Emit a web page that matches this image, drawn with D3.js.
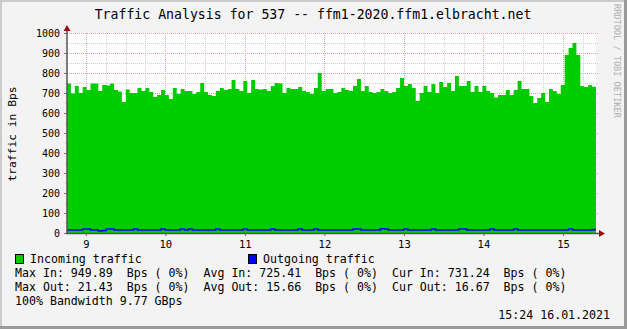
<!DOCTYPE html>
<html>
<head>
<meta charset="utf-8">
<script src="https://cdn.jsdelivr.net/npm/d3@7"></script>
<style>
  body { margin: 0; background: #f3f3f3; }
  text { font-family: 'DejaVu Sans Mono', monospace; white-space: pre; fill: #000; }
</style>
</head>
<body>
<div id="chart"></div>
<script>
// incoming traffic (Bps), one value per consolidated step
const inTraffic = [
  747, 698, 735, 700, 730, 715, 747, 747, 710, 740, 737, 747, 715, 707, 655, 717, 700, 700, 725, 710,
  725, 705, 680, 690, 715, 690, 670, 725, 695, 720, 710, 710, 695, 705, 750, 705, 690, 685, 710,
  725, 715, 720, 765, 720, 710, 760, 700, 765, 720, 717, 720, 710, 735, 750, 747, 700, 725, 720,
  720, 730, 710, 705, 695, 725, 800, 710, 720, 720, 700, 705, 725, 715, 710, 735, 770, 710, 735, 705,
  700, 705, 720, 710, 700, 705, 725, 775, 735, 745, 725, 660, 700, 735, 705, 745, 700, 755, 730,
  750, 710, 785, 735, 735, 760, 705, 735, 705, 735, 710, 700, 677, 690, 690, 715, 690, 715, 760,
  720, 720, 685, 650, 675, 700, 655, 720, 710, 695, 740, 890, 925, 949.89, 890, 735, 730, 740, 731.24
];

// outgoing traffic (Bps)
const outTraffic = [
  15, 15, 15, 15, 20, 20, 15, 15, 10, 12.5, 20, 20, 15, 15, 15,
  15, 15, 20, 15, 15, 15, 15, 15, 15, 20, 15, 15, 15, 15, 20,
  15, 20, 15, 15, 15, 15, 15, 15, 20, 15, 15, 15, 15, 15, 15,
  20, 15, 15, 15, 15, 15, 15, 20, 15, 15, 15, 15, 15, 15, 20,
  15, 15, 15, 20, 15, 15, 15, 15, 15, 15, 15, 15, 15, 20, 20,
  15, 15, 15, 15, 15, 21.43, 20, 15, 15, 15, 15, 20, 15, 15, 15,
  15, 15, 15, 20, 15, 15, 15, 15, 15, 15, 20, 20, 15, 15, 15,
  15, 15, 15, 20, 15, 15, 15, 15, 15, 20, 15, 15, 15, 15, 15,
  15, 15, 15, 15, 15, 15, 15, 15, 20, 15, 15, 15, 15, 15, 16.67
];

const yTicks = [0, 100, 200, 300, 400, 500, 600, 700, 800, 900, 1000];
const dayTicks = ['2021-01-09', '2021-01-10', '2021-01-11', '2021-01-12', '2021-01-13', '2021-01-14', '2021-01-15'];
const timeRange = ['2021-01-08T18:19:00Z', '2021-01-15T09:58:00Z'];

const title = 'Traffic Analysis for 537 -- ffm1-2020.ffm1.elbracht.net';
const legendSeries = ['Incoming traffic', 'Outgoing traffic'];
const statRows = [
  'Max In: 949.89  Bps ( 0%)  Avg In: 725.41  Bps ( 0%)  Cur In: 731.24  Bps ( 0%)',
  'Max Out: 21.43  Bps ( 0%)  Avg Out: 15.66  Bps ( 0%)  Cur Out: 16.67  Bps ( 0%)',
  '100% Bandwidth 9.77 GBps'
];
const stamp = '15:24 16.01.2021';

const W = 627, H = 329;
const plot = { left: 67, right: 596, top: 33, bottom: 233 };
const colIn = '#00cc00', colOut = '#0000ff';

const svg = d3.select('#chart')
  .append('svg')
  .attr('width', W)
  .attr('height', H);

// background + 3d-ish frame
svg.append('rect').attr('width', W).attr('height', H).attr('fill', '#f3f3f3');
svg.append('path').attr('d', `M1,${H} V1 H${W}`).attr('fill', 'none').attr('stroke', '#cbcbcb').attr('stroke-width', 2);
svg.append('path').attr('d', `M0,${H - 1.5} H${W - 1.5} V0`).attr('fill', 'none').attr('stroke', '#9a9a9a').attr('stroke-width', 3);

const t0 = new Date(timeRange[0]), t1 = new Date(timeRange[1]);
const x = d3.scaleUtc().domain([t0, t1]).range([plot.left, plot.right]);
const y = d3.scaleLinear().domain([0, 1000]).range([plot.bottom, plot.top]);

// canvas
svg.append('rect')
  .attr('x', plot.left).attr('y', plot.top)
  .attr('width', plot.right - plot.left).attr('height', plot.bottom - plot.top)
  .attr('fill', '#fff');

// step points
const step = (t1 - t0) / inTraffic.length;
const toPoints = arr => {
  const pts = arr.map((v, i) => ({ t: new Date(+t0 + i * step), v }));
  pts.push({ t: t1, v: arr[arr.length - 1] });
  return pts;
};
const inPts = toPoints(inTraffic);
const outPts = toPoints(outTraffic);

// grid
const grid = svg.append('g').attr('shape-rendering', 'crispEdges');
const minorY = y.ticks(20).filter(v => v % 100 !== 0);
const minorX = x.ticks(d3.utcHour.every(6)).filter(d => d.getUTCHours() !== 0);
const majorX = dayTicks.map(d => new Date(d + 'T00:00:00Z'));

grid.selectAll('.gy-minor').data(minorY).enter().append('line')
  .attr('x1', plot.left - 2).attr('x2', plot.right + 2)
  .attr('y1', d => Math.round(y(d)) + 0.5).attr('y2', d => Math.round(y(d)) + 0.5)
  .attr('stroke', '#d0d0d0').attr('stroke-dasharray', '1,1');
grid.selectAll('.gx-minor').data(minorX).enter().append('line')
  .attr('y1', plot.top).attr('y2', plot.bottom + 2)
  .attr('x1', d => Math.round(x(d)) + 0.5).attr('x2', d => Math.round(x(d)) + 0.5)
  .attr('stroke', '#d0d0d0').attr('stroke-dasharray', '1,1');
grid.selectAll('.gy-major').data(yTicks.slice(1)).enter().append('line')
  .attr('x1', plot.left - 2).attr('x2', plot.right + 2)
  .attr('y1', d => Math.round(y(d)) + 0.5).attr('y2', d => Math.round(y(d)) + 0.5)
  .attr('stroke', '#dca4a4').attr('stroke-dasharray', '1,1');
grid.selectAll('.gx-major').data(majorX).enter().append('line')
  .attr('y1', plot.top).attr('y2', plot.bottom + 3)
  .attr('x1', d => Math.round(x(d)) + 0.5).attr('x2', d => Math.round(x(d)) + 0.5)
  .attr('stroke', '#dca4a4').attr('stroke-dasharray', '1,1');

// incoming area
svg.append('path')
  .datum(inPts)
  .attr('fill', colIn)
  .attr('d', d3.area().curve(d3.curveStepAfter).x(d => x(d.t)).y0(y(0)).y1(d => y(d.v)));

// outgoing line
svg.append('path')
  .datum(outPts)
  .attr('fill', 'none')
  .attr('stroke', colOut)
  .attr('stroke-width', 1.6)
  .attr('d', d3.line().curve(d3.curveStepAfter).x(d => x(d.t)).y(d => y(d.v)));

// axes
const yAxis = d3.axisLeft(y).tickValues(yTicks).tickFormat(d3.format('d')).tickSize(3).tickPadding(4);
const gy = svg.append('g').attr('transform', `translate(${plot.left},0)`).call(yAxis);
gy.select('.domain').remove();
gy.selectAll('line').attr('stroke', '#777');
gy.selectAll('text').style('font-size', '10px').attr('font-family', null);

const xAxis = d3.axisBottom(x).tickValues(majorX).tickFormat(d3.utcFormat('%-d')).tickSize(3).tickPadding(5);
const gx = svg.append('g').attr('transform', `translate(0,${plot.bottom})`).call(xAxis);
gx.select('.domain').remove();
gx.selectAll('line').attr('stroke', '#c06060');
gx.selectAll('text').style('font-size', '10.5px').attr('font-family', null);

svg.append('line')
  .attr('x1', plot.left).attr('x2', plot.left)
  .attr('y1', plot.bottom + 1).attr('y2', plot.top - 5)
  .attr('stroke', '#555').attr('stroke-width', 1.5);
svg.append('line')
  .attr('x1', plot.left - 1).attr('x2', plot.right + 6)
  .attr('y1', plot.bottom + 0.5).attr('y2', plot.bottom + 0.5)
  .attr('stroke', '#555').attr('stroke-width', 1.5);

// arrows
svg.append('path')
  .attr('d', `M${plot.left - 3.5},${plot.top - 2} L${plot.left + 3.5},${plot.top - 2} L${plot.left},${plot.top - 8} Z`)
  .attr('fill', '#9a1010');
svg.append('path')
  .attr('d', `M${plot.right + 3},${plot.bottom - 3} L${plot.right + 3},${plot.bottom + 4} L${plot.right + 9},${plot.bottom + 0.5} Z`)
  .attr('fill', '#9a1010');

// title
svg.append('text')
  .attr('x', 313).attr('y', 19)
  .attr('text-anchor', 'middle')
  .style('font-size', '13.2px')
  .text(title);

// y axis label
svg.append('text')
  .attr('transform', 'translate(16,134) rotate(-90)')
  .attr('text-anchor', 'middle')
  .style('font-size', '11.3px')
  .text('traffic in Bps');

// watermark
svg.append('text')
  .attr('transform', 'translate(614,4) rotate(90)')
  .style('font-size', '8.6px')
  .style('fill', '#b0b0b0')
  .text('RRDTOOL / TOBI OETIKER');

// legend
const legend = svg.append('g');
const legX = [15, 248];
legend.selectAll('rect').data(legendSeries).enter().append('rect')
  .attr('x', (d, i) => legX[i] + 0.5).attr('y', 254.5)
  .attr('width', 8).attr('height', 9)
  .attr('fill', (d, i) => [colIn, colOut][i])
  .attr('stroke', '#000');
legend.selectAll('.lab').data(legendSeries).enter().append('text')
  .attr('x', (d, i) => legX[i] + 15).attr('y', 263)
  .style('font-size', '11.6px')
  .text(d => d);

svg.selectAll('.stat').data(statRows).enter().append('text')
  .attr('x', 15).attr('y', (d, i) => 277 + i * 14)
  .style('font-size', '11.6px')
  .text(d => d);

svg.append('text')
  .attr('x', 610).attr('y', 319)
  .attr('text-anchor', 'end')
  .style('font-size', '11.6px')
  .text(stamp);
</script>
</body>
</html>
